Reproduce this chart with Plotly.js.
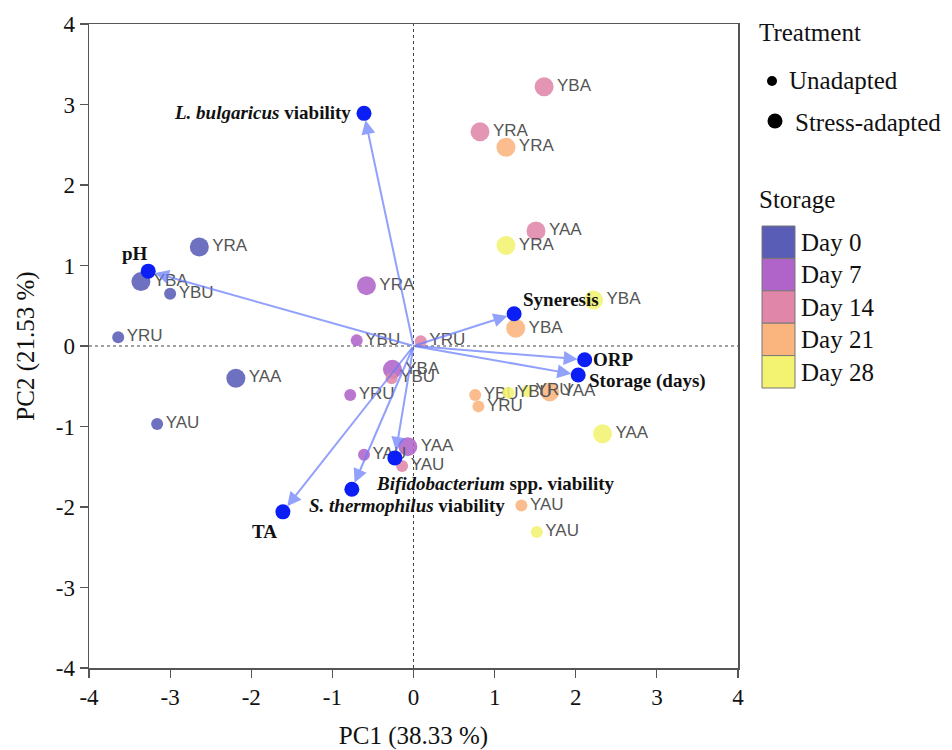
<!DOCTYPE html>
<html>
<head>
<meta charset="utf-8">
<script src="https://cdn.plot.ly/plotly-3.0.1.min.js"></script>
<style>html,body{margin:0;padding:0;background:#fff;}#chart{width:952px;height:750px;}</style>
</head>
<body>
<div id="chart"></div>
<script>
// ---- Data ----
const dayLabels = ["Day 0", "Day 7", "Day 14", "Day 21", "Day 28"];
const dayColors = ["#5A5DB6", "#B064C9", "#E086A8", "#FAB47E", "#F3F271"];

const sampleLabels = [
  "YRA","YBA","YBU","YRU","YAA","YAU",
  "YRA","YBU","YBA","YRU","YAA","YAU",
  "YBA","YRA","YAA","YRU","YBU","YAU",
  "YRA","YBA","YBU","YRU","YAA","YAU",
  "YBA","YRA","YAA","YAU","YBU","YRU"
];
const sampleDay = [
  0,0,0,0,0,0,
  1,1,1,1,1,1,
  2,2,2,2,2,2,
  3,3,3,3,3,3,
  4,4,4,4,4,4
];
const samplePC1 = [
  -2.64,-3.36,-3.00,-3.64,-2.19,-3.16,
  -0.58,-0.70,-0.26,-0.78,-0.07,-0.61,
   1.61, 0.82, 1.51, 0.09,-0.27,-0.14,
   1.14, 1.26, 0.76, 0.80, 1.68, 1.33,
   2.22, 1.14, 2.33, 1.52, 1.17, 1.40
];
const samplePC2 = [
   1.23, 0.80, 0.65, 0.11,-0.40,-0.97,
   0.75, 0.07,-0.29,-0.61,-1.25,-1.35,
   3.22, 2.66, 1.43, 0.06,-0.40,-1.49,
   2.47, 0.22,-0.61,-0.75,-0.57,-1.98,
   0.57, 1.25,-1.09,-2.31,-0.58,-0.56
];

const loadingNames = [
  "<b><i>L. bulgaricus</i> viability</b>",
  "<b>pH</b>",
  "<b>Syneresis</b>",
  "<b>ORP</b>",
  "<b>Storage (days)</b>",
  "<b><i>Bifidobacterium</i> spp. viability</b>",
  "<b><i>S. thermophilus</i> viability</b>",
  "<b>TA</b>"
];
const loadingPC1 = [-0.61, -3.27, 1.24, 2.11, 2.03, -0.23, -0.76, -1.61];
const loadingPC2 = [ 2.89,  0.93, 0.40, -0.17, -0.36, -1.39, -1.78, -2.06];

const treatmentLabels = ["Unadapted", "Stress-adapted"];
const axisTicks = [-4, -3, -2, -1, 0, 1, 2, 3, 4];
const axisTickText = ["-4", "-3", "-2", "-1", "0", "1", "2", "3", "4"];

// ---- Styling / positions ----
const loadingLabelPos = [
  {xanchor:"right", xshift:-11, yshift:1},
  {xanchor:"center", xshift:-13, yshift:18},
  {xanchor:"left", xshift:7, yshift:14},
  {xanchor:"left", xshift:6, yshift:0},
  {xanchor:"left", xshift:9, yshift:-6},
  {xanchor:"left", xshift:-21, yshift:-26},
  {xanchor:"left", xshift:-45, yshift:-16},
  {xanchor:"center", xshift:-18, yshift:-20}
];

const serif = "Liberation Serif, Times New Roman, serif";
const sans = "Liberation Sans, Arial, Helvetica, sans-serif";

const traces = [];
dayLabels.forEach((d, di) => {
  const idx = sampleDay.map((v,i)=>v===di?i:-1).filter(i=>i>=0);
  traces.push({
    type: "scatter",
    mode: "markers+text",
    x: idx.map(i=>samplePC1[i]),
    y: idx.map(i=>samplePC2[i]),
    text: idx.map(i=>sampleLabels[i]),
    textposition: "middle right",
    textfont: {family: sans, size: 17, color: "#555555"},
    marker: {
      color: dayColors[di],
      opacity: 0.88,
      size: idx.map(i=>sampleLabels[i].endsWith("A") ? 19 : 12),
      line: {width: 0}
    },
    hoverinfo: "skip",
    showlegend: false,
    cliponaxis: false
  });
});
traces.push({
  type: "scatter",
  mode: "markers",
  x: loadingPC1,
  y: loadingPC2,
  marker: {color: "#0A1EF5", size: 15},
  hoverinfo: "skip",
  showlegend: false
});

const annotations = [];
loadingPC1.forEach((lx, i) => {
  annotations.push({
    x: lx, y: loadingPC2[i], xref: "x", yref: "y",
    ax: 0, ay: 0, axref: "x", ayref: "y",
    text: "", showarrow: true,
    arrowhead: 2, arrowsize: 1.4, arrowwidth: 2,
    arrowcolor: "rgba(105,125,250,0.72)", standoff: 7
  });
});
loadingNames.forEach((n, i) => {
  const p = loadingLabelPos[i];
  annotations.push({
    x: loadingPC1[i], y: loadingPC2[i], xref: "x", yref: "y",
    text: n, showarrow: false,
    xanchor: p.xanchor, yanchor: "middle",
    xshift: p.xshift, yshift: p.yshift,
    font: {family: serif, size: 19, color: "#111"}
  });
});

// legend (manual, pixel positions converted to paper)
const L = 89, R = 738, T = 24, B = 668;
const px = v => (v - L) / (R - L);
const py = v => (B - v) / (B - T);
const legFont = {family: serif, size: 25, color: "#111"};

annotations.push({xref:"paper", yref:"paper", x:px(757), y:py(32), xanchor:"left", yanchor:"middle",
  text:"Treatment", showarrow:false, font:legFont});
annotations.push({xref:"paper", yref:"paper", x:px(787), y:py(80), xanchor:"left", yanchor:"middle",
  text:treatmentLabels[0], showarrow:false, font:legFont});
annotations.push({xref:"paper", yref:"paper", x:px(793), y:py(122), xanchor:"left", yanchor:"middle",
  text:treatmentLabels[1], showarrow:false, font:legFont});
annotations.push({xref:"paper", yref:"paper", x:px(757), y:py(200), xanchor:"left", yanchor:"middle",
  text:"Storage", showarrow:false, font:legFont});

const shapes = [
  {type:"line", xref:"x", yref:"paper", x0:0, x1:0, y0:0, y1:1, line:{color:"#444", width:1, dash:"dot"}, layer:"below"},
  {type:"line", xref:"paper", yref:"y", x0:0, x1:1, y0:0, y1:0, line:{color:"#444", width:1, dash:"dot"}, layer:"below"},
  {type:"circle", xref:"paper", yref:"paper", xsizemode:"pixel", ysizemode:"pixel",
   xanchor:px(772), yanchor:py(81), x0:-5, x1:5, y0:-5, y1:5, fillcolor:"#000", line:{width:0}},
  {type:"circle", xref:"paper", yref:"paper", xsizemode:"pixel", ysizemode:"pixel",
   xanchor:px(775), yanchor:py(121), x0:-7.5, x1:7.5, y0:-7.5, y1:7.5, fillcolor:"#000", line:{width:0}}
];
dayLabels.forEach((d, di) => {
  const top = 226 + di * 32.4;
  shapes.push({type:"rect", xref:"paper", yref:"paper", x0:px(762), x1:px(795), y0:py(top), y1:py(top+32.4),
    fillcolor: dayColors[di], line:{color:"#777", width:1}});
  annotations.push({xref:"paper", yref:"paper", x:px(799), y:py(top+16.5), xanchor:"left", yanchor:"middle",
    text:d, showarrow:false, font:legFont});
});

const axisCommon = {
  range: [-4, 4], tickvals: axisTicks, ticktext: axisTickText,
  showgrid: false, zeroline: false,
  showline: true, linecolor: "#555", linewidth: 1.5, mirror: true,
  ticks: "outside", ticklen: 8, tickwidth: 1.2, tickcolor: "#555",
  tickfont: {family: serif, size: 23, color: "#111"}
};

const layout = {
  width: 952, height: 750,
  margin: {l: L, r: 952 - R, t: T, b: 750 - B, pad: 0},
  paper_bgcolor: "#fff", plot_bgcolor: "#fff",
  xaxis: Object.assign({}, axisCommon, {title: {text: "PC1 (38.33 %)", font: {family: serif, size: 25, color: "#111"}, standoff: 18}}),
  yaxis: Object.assign({}, axisCommon, {title: {text: "PC2 (21.53 %)", font: {family: serif, size: 25, color: "#111"}, standoff: 14}}),
  showlegend: false,
  shapes: shapes,
  annotations: annotations
};

Plotly.newPlot("chart", traces, layout, {displayModeBar: false, staticPlot: true});
</script>
</body>
</html>
